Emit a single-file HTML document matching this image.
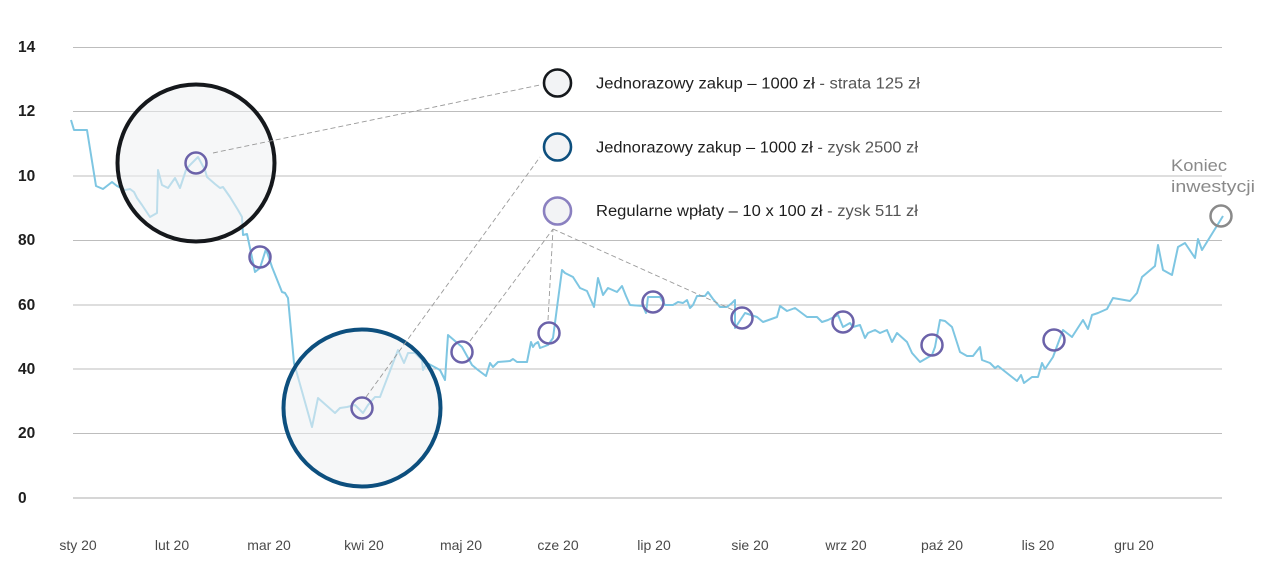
<!DOCTYPE html>
<html>
<head>
<meta charset="utf-8">
<style>
  html,body{margin:0;padding:0;background:#fff;}
  svg{display:block;}
  text{font-family:"Liberation Sans",sans-serif;}
</style>
</head>
<body>
<svg width="1280" height="582" viewBox="0 0 1280 582" xmlns="http://www.w3.org/2000/svg">
  <rect width="1280" height="582" fill="#ffffff"/>
  <!-- grid -->
  <g stroke="#bdbdbd" stroke-width="1">
    <line x1="73" y1="47.5" x2="1222" y2="47.5"/>
    <line x1="73" y1="111.5" x2="1222" y2="111.5"/>
    <line x1="73" y1="176" x2="1222" y2="176"/>
    <line x1="73" y1="240.5" x2="1222" y2="240.5"/>
    <line x1="73" y1="305" x2="1222" y2="305"/>
    <line x1="73" y1="369" x2="1222" y2="369"/>
    <line x1="73" y1="433.5" x2="1222" y2="433.5"/>
  </g>
  <line x1="73" y1="498" x2="1222" y2="498" stroke="#d6d6d6" stroke-width="2"/>
  <!-- y labels -->
  <g font-size="15.5" font-weight="bold" fill="#1e1e1e">
    <text x="18" y="52">14</text>
    <text x="18" y="116">12</text>
    <text x="18" y="181">10</text>
    <text x="18" y="245">80</text>
    <text x="18" y="310">60</text>
    <text x="18" y="374">40</text>
    <text x="18" y="438">20</text>
    <text x="18" y="503">0</text>
  </g>
  <!-- x labels -->
  <g font-size="14" fill="#4a4a4a" text-anchor="middle">
    <text x="78" y="550">sty 20</text>
    <text x="172" y="550">lut 20</text>
    <text x="269" y="550">mar 20</text>
    <text x="364" y="550">kwi 20</text>
    <text x="461" y="550">maj 20</text>
    <text x="558" y="550">cze 20</text>
    <text x="654" y="550">lip 20</text>
    <text x="750" y="550">sie 20</text>
    <text x="846" y="550">wrz 20</text>
    <text x="942" y="550">paź 20</text>
    <text x="1038" y="550">lis 20</text>
    <text x="1134" y="550">gru 20</text>
  </g>
  <!-- data line -->
  <polyline fill="none" stroke="#7ec6e2" stroke-width="2" stroke-linejoin="round" points="71,120 74,130 87,130 96,186 103,189 112,182 117,186 125,190 130,189 134,192 137,198 142,205 150,217 157,213 158,170 162,185 168,188 175,178 180,188 186,170 190,165 198,157 205,170 207,177 215,184 220,188 223,187 230,197 238,210 242,217 243,235 247,234 250,248 255,272 260,268 266,249 272,267 282,292 285,293 288,298 294,363 312,427 318,398 335,413 340,408 347,407 355,405 363,413 368,405 375,397 380,397 398,350 404,363 408,353 415,353 422,360 423,370 427,363 440,370 445,380 448,335 462,347 472,365 478,370 486,376 490,363 493,367 498,362 510,361 513,359 517,362 520,362 527,362 531,342 533,347 535,344 538,342 540,348 548,345 553,338 558,300 562,270 565,273 573,277 580,288 587,291 594,307 598,278 603,295 608,288 617,292 622,286 626,296 630,305 643,306 646,313 648,297 660,297 665,305 673,305 678,302 683,303 687,300 690,308 693,305 697,296 705,296 708,292 713,299 720,307 727,307 732,303 735,300 735,328 745,313 757,317 763,322 777,317 780,306 787,311 795,308 807,317 817,317 822,322 828,320 838,315 843,327 850,323 853,327 860,325 865,338 868,333 875,330 880,333 887,330 892,342 897,333 907,342 912,353 920,362 932,355 935,347 940,320 945,321 952,327 960,352 967,356 973,356 980,347 982,360 990,363 995,368 998,366 1017,381 1021,375 1024,383 1032,377 1038,377 1042,363 1045,369 1053,357 1063,330 1072,337 1083,320 1088,329 1092,315 1098,313 1107,309 1113,298 1130,301 1137,293 1142,277 1155,266 1158,245 1163,270 1172,275 1178,247 1185,243 1195,258 1198,239 1202,250 1223,216"/>
  <!-- big circles -->
  <circle cx="196" cy="163" r="78.5" fill="#eef0f3" fill-opacity="0.55" stroke="#15181c" stroke-width="4"/>
  <circle cx="362" cy="408" r="78.5" fill="#eef0f3" fill-opacity="0.55" stroke="#0d4f7e" stroke-width="4"/>
  <!-- dashed leaders -->
  <g stroke="#9a9a9a" stroke-width="0.9" stroke-dasharray="5,3" fill="none">
    <line x1="213" y1="153" x2="540" y2="85"/>
    <line x1="366" y1="397" x2="540" y2="157"/>
    <line x1="470" y1="341" x2="553" y2="229"/>
    <line x1="548" y1="320" x2="553" y2="229"/>
    <line x1="553" y1="229" x2="733" y2="310"/>
  </g>
  <!-- small purple circles -->
  <g fill="none" stroke="#6b62a9" stroke-width="2.5">
    <circle cx="196" cy="163" r="10.5"/>
    <circle cx="260" cy="257" r="10.5"/>
    <circle cx="362" cy="408" r="10.5"/>
    <circle cx="462" cy="352" r="10.5"/>
    <circle cx="549" cy="333" r="10.5"/>
    <circle cx="653" cy="302" r="10.5"/>
    <circle cx="742" cy="318" r="10.5"/>
    <circle cx="843" cy="322" r="10.5"/>
    <circle cx="932" cy="345" r="10.5"/>
    <circle cx="1054" cy="340" r="10.5"/>
  </g>
  <circle cx="1221" cy="216" r="10.5" fill="none" stroke="#8a8a8a" stroke-width="2.5"/>
  <text x="1171" y="171" font-size="17" fill="#8a8a8a" textLength="56" lengthAdjust="spacingAndGlyphs">Koniec</text>
  <text x="1171" y="192" font-size="17" fill="#8a8a8a" textLength="84" lengthAdjust="spacingAndGlyphs">inwestycji</text>
  <!-- legend -->
  <circle cx="557.5" cy="83" r="13.5" fill="#f2f3f5" stroke="#15181c" stroke-width="2.6"/>
  <circle cx="557.5" cy="147" r="13.5" fill="#f2f3f5" stroke="#0d4f7e" stroke-width="2.6"/>
  <circle cx="557.5" cy="211" r="13.5" fill="#f2f3f5" stroke="#8a80c0" stroke-width="2.6"/>
  <g font-size="15.5">
    <text x="596" y="88.5" textLength="324" lengthAdjust="spacingAndGlyphs"><tspan fill="#1e1e1e">Jednorazowy zakup – 1000 zł</tspan><tspan fill="#555"> - strata 125 zł</tspan></text>
    <text x="596" y="152.5" textLength="322" lengthAdjust="spacingAndGlyphs"><tspan fill="#1e1e1e">Jednorazowy zakup – 1000 zł</tspan><tspan fill="#555"> - zysk 2500 zł</tspan></text>
    <text x="596" y="216" textLength="322" lengthAdjust="spacingAndGlyphs"><tspan fill="#1e1e1e">Regularne wpłaty – 10 x 100 zł</tspan><tspan fill="#555"> - zysk 511 zł</tspan></text>
  </g>
</svg>
</body>
</html>
